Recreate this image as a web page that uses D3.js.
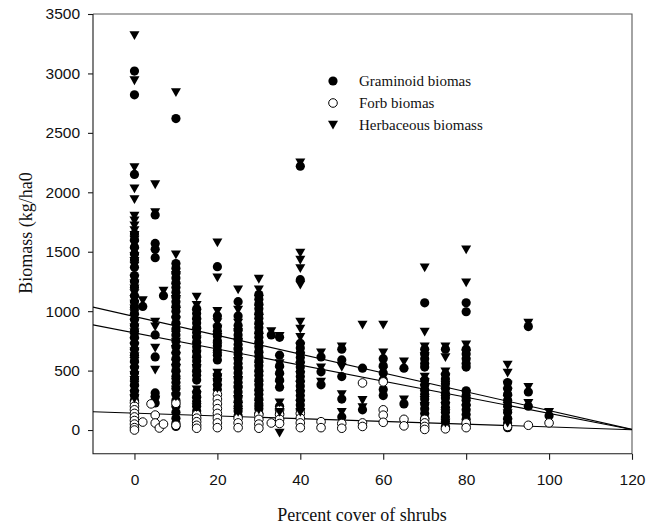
<!DOCTYPE html>
<html>
<head>
<meta charset="utf-8">
<script src="https://cdn.jsdelivr.net/npm/d3@7/dist/d3.min.js"></script>
<style>
  html, body { margin: 0; padding: 0; background: #fff; }
  svg { display: block; }
</style>
</head>
<body>
<svg id="chart" width="653" height="527"></svg>
<script>
// Biomass (kg/ha) against percent shrub cover; each entry is [cover %, list of plot values]
const graminoid = [
  [0, [3020, 2820, 2150, 1650, 1600, 1540, 1480, 1430, 1370, 1300, 1250, 1200, 1130, 1080, 1030, 980, 930, 880, 830, 780, 730, 680, 630, 580, 530, 480, 430, 380, 330, 290, 250]],
  [2, [1040]],
  [5, [1810, 1570, 1520, 1450, 800, 615, 312, 278, 228]],
  [7, [1130]],
  [10, [2620, 1400, 1360, 1320, 1280, 1240, 1200, 1160, 1120, 1080, 1040, 1000, 950, 900, 850, 800, 750, 700, 650, 600, 550, 500, 450, 400, 350, 300, 250, 200, 150, 100, 60, 30]],
  [15, [1020, 980, 940, 900, 860, 820, 780, 740, 700, 660, 620, 580, 540, 500, 460, 420, 320, 280, 240, 200, 160]],
  [20, [1374, 960, 870, 830, 790, 750, 710, 670, 630, 590, 460, 420, 380, 340]],
  [25, [1080, 960, 880, 840, 800, 760, 720, 680, 640, 600, 560, 520, 480, 440, 400, 360, 320, 280, 240, 200, 160, 120]],
  [30, [1140, 1100, 1060, 1020, 980, 940, 900, 860, 820, 780, 740, 700, 660, 620, 580, 540, 500, 460, 420, 380, 340, 300, 260, 220, 180, 140]],
  [33, [800]],
  [35, [780, 630, 540, 480, 420, 360, 200, 140]],
  [40, [2220, 1265, 730, 690, 650, 610, 570, 530, 490, 450, 410, 370, 330, 290, 250, 210, 170]],
  [45, [615, 490, 380]],
  [50, [680, 590, 450, 260, 110]],
  [55, [520, 170]],
  [60, [600, 540, 480, 420, 340, 290]],
  [65, [520, 220]],
  [70, [1070, 680, 640, 600, 560, 530, 420, 380, 340, 300, 260, 220, 180, 140, 100]],
  [75, [680, 470, 430, 390, 350, 310, 270, 230, 190, 150, 110, 70, 30]],
  [80, [1070, 995, 680, 640, 600, 560, 530, 330, 290, 250, 210, 170, 130, 90, 50]],
  [90, [400, 350, 300, 250, 200, 150, 100, 60, 20]],
  [95, [870, 320, 200]],
  [100, [120]]
];

const forb = [
  [0, [230, 200, 170, 140, 110, 80, 50, 20, 0]],
  [2, [67]],
  [4, [220]],
  [5, [126, 59]],
  [6, [17]],
  [7, [50]],
  [10, [225, 40]],
  [15, [130, 100, 70, 40, 15]],
  [20, [300, 260, 220, 180, 140, 100, 60, 20]],
  [25, [100, 60, 20]],
  [30, [130, 90, 50, 15]],
  [33, [59]],
  [35, [170, 130, 90, 55]],
  [40, [140, 100, 60, 20]],
  [45, [70, 20]],
  [50, [55, 15]],
  [55, [396, 60, 30]],
  [60, [405, 170, 125, 65]],
  [65, [90, 35]],
  [70, [90, 60, 30, 5]],
  [75, [10]],
  [80, [60, 20]],
  [90, [30]],
  [95, [40]],
  [100, [60]]
];

const herbaceous = [
  [0, [3320, 2940, 2210, 2030, 1940, 1800, 1760, 1720, 1680, 1640, 1600, 1560, 1500, 1460, 1420, 1380, 1270, 1230, 1190, 1150, 1100, 1060, 1020, 980, 940, 900, 860, 820, 780, 740, 700, 660, 620, 580, 540, 500, 460, 420, 380, 340, 300, 265]],
  [2, [1090]],
  [5, [2065, 1830, 910, 870, 690, 506, 253]],
  [7, [1170]],
  [10, [2840, 1475, 1300, 1200, 1100, 1000, 920, 860, 800, 740, 680, 620, 560, 520, 460, 400, 340, 280]],
  [15, [1120, 1050, 980, 900, 820, 760, 700, 640, 580, 520, 460, 340, 290, 240, 190]],
  [20, [1576, 1281, 1000, 905, 850, 780, 700, 620, 480, 440, 400, 350]],
  [25, [1180, 1010, 900, 820, 740, 660, 580, 500, 420, 340, 260, 200, 150]],
  [30, [1270, 1180, 1100, 1020, 940, 860, 780, 700, 620, 540, 460, 380, 300, 220, 170]],
  [33, [830]],
  [35, [790, 560, 500, 440, 380, 230, 150, -25]],
  [40, [2250, 1490, 1430, 1360, 1220, 910, 850, 780, 700, 620, 540, 460, 380, 300, 220, 150]],
  [45, [650, 525, 405]],
  [50, [700, 530, 300, 150]],
  [55, [885, 250, 190]],
  [60, [885, 650, 500]],
  [65, [575, 255]],
  [70, [1366, 826, 700, 620, 447, 400, 350, 300, 250, 200]],
  [75, [700, 610, 490, 440, 380, 320, 260, 200, 140, 60]],
  [80, [1517, 1240, 717, 640, 300, 240, 180]],
  [90, [548, 480, 380, 320, 260, 200, 140, 60]],
  [95, [900, 360, 225]],
  [100, [150]]
];

// Fitted linear trends: [intercept, slope]
const fitGraminoid = [817, -6.77];
const fitForb = [142, -1.16];
const fitHerbaceous = [955, -7.915];

const xTicks = [0, 20, 40, 60, 80, 100, 120];
const yTicks = [0, 500, 1000, 1500, 2000, 2500, 3000, 3500];
const legendLabels = ["Graminoid biomas", "Forb biomas", "Herbaceous biomass"];
const xTitle = "Percent cover of shrubs";
const yTitle = "Biomass (kg/ha0";

const svg = d3.select("#chart");
const x = d3.scaleLinear().domain([-10, 120]).range([93, 632]);
const y = d3.scaleLinear().domain([-200, 3500]).range([453.8, 14]);

const flat = rows => rows.flatMap(([cx, vals]) => vals.map(v => [cx, v]));
const [xl, xr] = x.range();
const [yb, yt] = y.range();

// plot frame: top and right edges are lighter than the two axes
const frame = svg.append("g").attr("fill", "none").attr("stroke-width", 1.1);
frame.append("path").attr("d", `M${xl},${yt}H${xr}V${yb}`).attr("stroke", "#5a5a5a");
frame.append("path").attr("d", `M${xl},${yt}V${yb}H${xr}`).attr("stroke", "#1a1a1a");

// axes
const xAxis = svg.append("g")
  .attr("transform", `translate(0,${yb})`)
  .call(d3.axisBottom(x).tickValues(xTicks).tickSize(6).tickPadding(14).tickFormat(d3.format("d")));
const yAxis = svg.append("g")
  .attr("transform", `translate(${xl},0)`)
  .call(d3.axisLeft(y).tickValues(yTicks).tickSize(5).tickPadding(8).tickFormat(d3.format("d")));
[xAxis, yAxis].forEach(a => {
  a.select(".domain").remove();
  a.selectAll("line").attr("stroke", "#1a1a1a").attr("stroke-width", 1.1);
  a.selectAll("text").attr("fill", "#111")
    .style("font-family", "'Liberation Sans', Arial, sans-serif").style("font-size", "15.5px");
});

// trend lines, clipped to the plot area
svg.append("clipPath").attr("id", "plotArea").append("rect")
  .attr("x", xl).attr("y", yt).attr("width", xr - xl).attr("height", yb - yt);
const lines = svg.append("g").attr("clip-path", "url(#plotArea)");
[fitGraminoid, fitForb, fitHerbaceous].forEach(([a, b]) => {
  const [x0, x1] = x.domain();
  lines.append("line")
    .attr("x1", x(x0)).attr("y1", y(a + b * x0))
    .attr("x2", x(x1)).attr("y2", y(a + b * x1))
    .attr("stroke", "#000").attr("stroke-width", 1.1);
});

// markers
const triDown = "M-5,-4.2L5,-4.2L0,4.6Z";
const pts = svg.append("g");
pts.selectAll("circle.gram").data(flat(graminoid)).join("circle")
  .attr("class", "gram")
  .attr("cx", d => x(d[0])).attr("cy", d => y(d[1])).attr("r", 4.6)
  .attr("fill", "#000");
pts.selectAll("circle.forb").data(flat(forb)).join("circle")
  .attr("class", "forb")
  .attr("cx", d => x(d[0])).attr("cy", d => y(d[1])).attr("r", 4.3)
  .attr("fill", "#fff").attr("stroke", "#000").attr("stroke-width", 1);
pts.selectAll("path.herb").data(flat(herbaceous)).join("path")
  .attr("class", "herb")
  .attr("d", triDown)
  .attr("transform", d => `translate(${x(d[0])},${y(d[1])})`)
  .attr("fill", "#000");

// legend
const legend = svg.append("g").attr("transform", "translate(333,81)");
legendLabels.forEach((label, i) => {
  const row = legend.append("g").attr("transform", `translate(0,${i * 22})`);
  if (i === 0) row.append("circle").attr("r", 4.6).attr("fill", "#000");
  if (i === 1) row.append("circle").attr("r", 4.3).attr("fill", "#fff").attr("stroke", "#000");
  if (i === 2) row.append("path").attr("d", triDown).attr("fill", "#000");
  row.append("text").attr("x", 26).attr("dy", "0.35em")
    .style("font-family", "'Liberation Serif', 'Times New Roman', serif").style("font-size", "15px")
    .attr("fill", "#111").text(label);
});

// axis titles
svg.append("text")
  .attr("x", (xl + xr) / 2 - 0.5).attr("y", 521)
  .attr("text-anchor", "middle")
  .style("font-family", "'Liberation Serif', 'Times New Roman', serif").style("font-size", "18px")
  .attr("fill", "#111").text(xTitle);
svg.append("text")
  .attr("transform", "translate(32,233) rotate(-90)")
  .attr("text-anchor", "middle")
  .style("font-family", "'Liberation Serif', 'Times New Roman', serif").style("font-size", "18px")
  .attr("fill", "#111").text(yTitle);
</script>
</body>
</html>
